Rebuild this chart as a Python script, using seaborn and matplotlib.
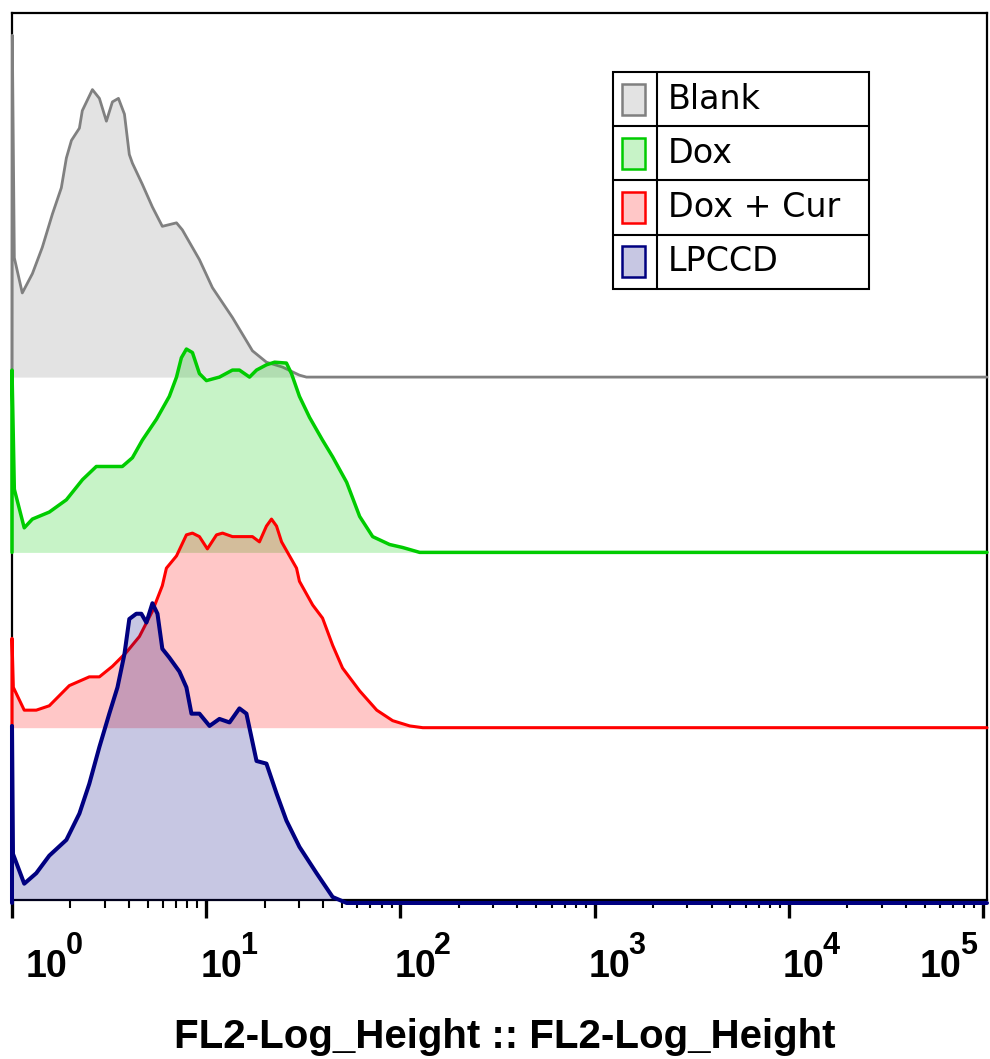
import numpy as np
import matplotlib.pyplot as plt
import seaborn as sns
from matplotlib.patches import Rectangle
from matplotlib.ticker import NullFormatter

# Histogram outlines.
# x in decades (log10 of FL2), height in counts where one offset step = 100
blank_log = [0.0, 0.0015, 0.012, 0.053, 0.105, 0.156, 0.208, 0.254, 0.28, 0.306, 0.347, 0.362,
             0.414, 0.45, 0.486, 0.517, 0.548, 0.579, 0.604, 0.62, 0.671, 0.723, 0.774, 0.847,
             0.877, 0.965, 1.032, 1.135, 1.238, 1.31, 1.393, 1.48, 1.516]
blank_h = [0, 195, 68, 48, 59, 74, 93, 108, 125, 135, 142, 152,
           164, 159, 146, 157, 159, 150, 127, 122, 110, 97, 86, 88,
           84, 67, 51, 34, 15, 8.5, 5.7, 1.1, 0]

dox_log = [0.0, 0.0, 0.012, 0.063, 0.105, 0.192, 0.28, 0.363, 0.434, 0.486, 0.568, 0.62,
           0.671, 0.744, 0.81, 0.847, 0.872, 0.898, 0.929, 0.965, 1.001, 1.068, 1.135, 1.171,
           1.223, 1.259, 1.31, 1.352, 1.413, 1.439, 1.48, 1.532, 1.599, 1.651, 1.723, 1.79,
           1.857, 1.944, 2.011, 2.099]
dox_h = [0, 104, 36, 14, 19, 23, 30, 41.5, 49, 49, 49, 54,
         64, 76, 89, 100, 111, 116, 114, 102, 98, 100, 104, 104,
         100, 104, 107, 108.5, 108, 102, 89, 77, 64, 54.5, 40, 20.5,
         9, 4.5, 2.8, 0]

doxcur_log = [0.0, 0.0, 0.007, 0.063, 0.125, 0.192, 0.295, 0.398, 0.45, 0.517, 0.589, 0.656,
              0.723, 0.774, 0.795, 0.847, 0.898, 0.929, 0.965, 1.006, 1.053, 1.084, 1.135, 1.238,
              1.274, 1.31, 1.336, 1.362, 1.388, 1.429, 1.465, 1.48, 1.548, 1.599, 1.651, 1.702,
              1.79, 1.878, 1.96, 2.048, 2.115]
doxcur_h = [0, 51, 23, 10, 10, 12.5, 24, 29, 29, 35, 43, 52,
            66.5, 81, 91, 98, 110, 111, 109, 102, 110, 111, 109, 109,
            106, 115, 119, 115, 106, 98, 91, 83.5, 70, 62.5, 47, 34,
            21, 10, 4, 1, 0]

lpccd_log = [0.0, 0.0, 0.005, 0.063, 0.125, 0.192, 0.28, 0.347, 0.398, 0.45, 0.501, 0.543,
             0.579, 0.604, 0.64, 0.666, 0.692, 0.723, 0.749, 0.774, 0.81, 0.862, 0.898, 0.924,
             0.965, 1.017, 1.068, 1.12, 1.171, 1.207, 1.259, 1.31, 1.362, 1.413, 1.48, 1.568,
             1.651, 1.723]
lpccd_h = [0, 101, 28, 11, 17, 27, 36, 51, 68, 89, 108, 123,
           142, 162, 165, 165, 160, 171, 165, 145, 140, 132, 123, 108,
           108, 101, 105, 103, 111, 108, 81, 79.5, 62.5, 47, 32, 17,
           3.4, 0]

names = ['Blank', 'Dox', 'Dox + Cur', 'LPCCD']
offsets = [300, 200, 100, 0]
decades = [0, 1, 2, 3, 4, 5]
exponents = ['0', '1', '2', '3', '4', '5']

colors = ['#808080', '#00cc00', '#ff0000', '#000080']
widths = [2.0, 2.5, 2.2, 2.9]
series = [(blank_log, blank_h), (dox_log, dox_h), (doxcur_log, doxcur_h), (lpccd_log, lpccd_h)]

sns.set_style('white')
plt.rcParams['font.family'] = ['Liberation Sans', 'DejaVu Sans']
plt.rcParams['text.color'] = 'black'
plt.rcParams['axes.labelcolor'] = 'black'
plt.rcParams['xtick.color'] = 'black'

PX = 0.72  # points per pixel at dpi 100

fig = plt.figure(figsize=(9.9, 10.59), dpi=100)
ax = fig.add_axes([0.01212, 0.15014, 0.98485, 0.83758])
ax.set_xscale('log')
xmax = 10 ** 5.02

for i, (lx, h) in enumerate(series):
    x = np.append(10 ** np.array(lx), xmax)
    y = np.append(np.array(h, dtype=float), 0) + offsets[i]
    ax.fill_between(x, offsets[i], y, color=colors[i], alpha=0.22, lw=0, zorder=3 + 2 * i)
    sns.lineplot(x=x, y=y, color=colors[i], lw=widths[i], sort=False, estimator=None,
                 ax=ax, zorder=4 + 2 * i, clip_on=False)

ax.set_xlim(1, xmax)
ax.set_ylim(1.7, 507.7)
ax.set_yticks([])
ax.set_xticks([10.0 ** d for d in decades])
ax.set_xticks([m * 10.0 ** d for d in decades[:-1] for m in range(2, 10)], minor=True)
ax.xaxis.set_major_formatter(NullFormatter())
ax.xaxis.set_minor_formatter(NullFormatter())
ax.tick_params(axis='x', which='major', direction='out', length=13, width=2.4, color='black', bottom=True)
ax.tick_params(axis='x', which='minor', direction='out', length=6, width=1.5, color='black', bottom=True)
for sp in ax.spines.values():
    sp.set_color('black')
    sp.set_linewidth(1.6)
    sp.set_zorder(2.5)

# decade labels: "10" with a raised exponent
label_shift = [14, -6, -6, -6, -6, -63]
for d, e, s in zip(decades, exponents, label_shift):
    ax.annotate('10', xy=(10.0 ** d, 0), xycoords=('data', 'axes fraction'),
                xytext=(s * PX, -77 * PX), textcoords='offset points',
                ha='left', va='baseline', fontsize=27, fontweight='bold', annotation_clip=False)
    ax.annotate(e, xy=(10.0 ** d, 0), xycoords=('data', 'axes fraction'),
                xytext=((s + 40) * PX, -54 * PX), textcoords='offset points',
                ha='left', va='baseline', fontsize=22, fontweight='bold', annotation_clip=False)

ax.set_xlabel('FL2-Log_Height :: FL2-Log_Height', fontsize=29, fontweight='bold')
ax.xaxis.set_label_coords(0.5056, -0.1669)
ax.xaxis.label.set_va('baseline')

# boxed legend table
lx0, lx1, lx2 = 0.6164, 0.6615, 0.879
ltop, row = 0.9335, 0.06116
n = len(names)
kw = dict(transform=ax.transAxes, color='black', lw=1.5, zorder=20, clip_on=False)
ax.add_patch(Rectangle((lx0, ltop - n * row), lx2 - lx0, n * row, fill=False, ec='black',
                       lw=1.5, transform=ax.transAxes, zorder=20))
ax.plot([lx1, lx1], [ltop, ltop - n * row], **kw)
for k in range(1, n):
    ax.plot([lx0, lx2], [ltop - k * row, ltop - k * row], **kw)
sw_w, sw_h = 0.0236, 0.035
for k, (name, c) in enumerate(zip(names, colors)):
    yc = ltop - (k + 0.5) * row
    ax.add_patch(Rectangle((0.6256, yc - sw_h / 2), sw_w, sw_h, transform=ax.transAxes,
                           fc=(*plt.matplotlib.colors.to_rgb(c), 0.22), ec=c, lw=1.8, zorder=21))
    ax.text(0.6728, yc, name, transform=ax.transAxes, ha='left', va='center',
            fontsize=24, family='DejaVu Sans', zorder=21)

fig.savefig('out.png', dpi=100)
